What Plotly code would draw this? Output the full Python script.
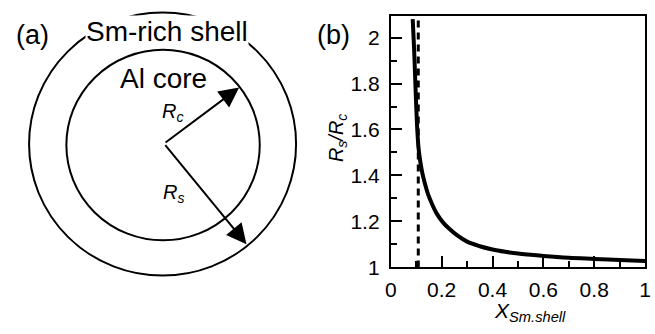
import plotly.graph_objects as go

W, H = 655, 334

# ---- panel (b) data ----
x_sm_shell = [0.086, 0.090, 0.093, 0.0965, 0.100, 0.104, 0.109, 0.116, 0.124, 0.134, 0.146,
              0.160, 0.180, 0.205, 0.23, 0.26, 0.30, 0.35, 0.40, 0.45, 0.50, 0.60, 0.70,
              0.80, 0.90, 1.00]
rs_over_rc = [2.08, 1.99, 1.91, 1.80, 1.70, 1.60, 1.52, 1.46, 1.41, 1.365, 1.32,
              1.281, 1.235, 1.196, 1.168, 1.14, 1.112, 1.092, 1.078, 1.068, 1.06, 1.05, 1.042,
              1.037, 1.032, 1.028]
x_dashed = [0.108, 0.108]
y_dashed = [1.0, 2.094]
x_ticks = [0, 0.2, 0.4, 0.6, 0.8, 1]
x_ticklabels = ["0", "0.2", "0.4", "0.6", "0.8", "1"]
y_ticks = [1, 1.2, 1.4, 1.6, 1.8, 2]
y_ticklabels = ["1", "1.2", "1.4", "1.6", "1.8", "2"]

# ---- panel (a) schematic geometry (pixel-like units) ----
outer_circle = (159.5, 149.0, 136.0)   # cx, cy, r
inner_circle = (160.0, 150.0, 98.5)
arrow_origin = (161.0, 148.5)
arrow_rc_tip = (237.5, 90.5)
arrow_rs_tip = (245.0, 252.5)

FONT = "Arial, Liberation Sans, sans-serif"

def px(x):
    return x / W

def py(y):
    return 1 - y / H

fig = go.Figure()

fig.add_trace(go.Scatter(x=x_sm_shell, y=rs_over_rc, mode="lines",
                         line=dict(color="black", width=4, shape="spline", smoothing=1.0),
                         xaxis="x", yaxis="y", showlegend=False, hoverinfo="skip"))
fig.add_trace(go.Scatter(x=x_dashed, y=y_dashed, mode="lines",
                         line=dict(color="black", width=3, dash="7px,5px"),
                         xaxis="x", yaxis="y", showlegend=False, hoverinfo="skip"))
# invisible trace to instantiate the schematic axes
fig.add_trace(go.Scatter(x=[0], y=[0], mode="markers", marker=dict(opacity=0),
                         xaxis="x2", yaxis="y2", showlegend=False, hoverinfo="skip"))

axis_common = dict(showline=True, linecolor="black", linewidth=2, mirror=True,
                   ticks="inside", ticklen=11, tickwidth=1.5, tickcolor="black",
                   showgrid=False, zeroline=False, ticklabeloverflow="allow",
                   tickfont=dict(family=FONT, size=21, color="black"))

fig.update_layout(
    width=W, height=H,
    margin=dict(l=0, r=0, t=0, b=0),
    paper_bgcolor="white", plot_bgcolor="white",
    xaxis=dict(domain=[px(392), px(651)], range=[0, 1], anchor="y",
               tickvals=x_ticks, ticktext=x_ticklabels,
               minor=dict(dtick=0.1, tick0=0, ticks="inside", ticklen=6, tickwidth=1.5, tickcolor="black"),
               ticklabelstandoff=2,
               **axis_common),
    yaxis=dict(domain=[py(276.5), py(16.5)], range=[1, 2.094], anchor="x",
               tickvals=y_ticks, ticktext=y_ticklabels,
               minor=dict(dtick=0.1, tick0=1, ticks="inside", ticklen=6, tickwidth=1.5, tickcolor="black"),
               ticklabelstandoff=5,
               **axis_common),
    xaxis2=dict(domain=[0, px(320)], range=[0, 320], visible=False, anchor="y2", fixedrange=True),
    yaxis2=dict(domain=[0, 1], range=[H, 0], visible=False, anchor="x2", fixedrange=True),
)

# circles
for cx, cy, r in (outer_circle, inner_circle):
    fig.add_shape(type="circle", xref="x2", yref="y2",
                  x0=cx - r, x1=cx + r, y0=cy - r, y1=cy + r,
                  line=dict(color="black", width=2), fillcolor="rgba(0,0,0,0)", layer="above")

# arrows
for tip in (arrow_rc_tip, arrow_rs_tip):
    fig.add_annotation(x=tip[0], y=tip[1], ax=arrow_origin[0], ay=arrow_origin[1],
                       xref="x2", yref="y2", axref="x2", ayref="y2",
                       text="", showarrow=True, arrowhead=2, arrowsize=2.0,
                       arrowwidth=2, arrowcolor="black")

def label(text, x, y, size, **kw):
    fig.add_annotation(x=px(x), y=py(y), xref="paper", yref="paper", text=text,
                       showarrow=False, xanchor="center", yanchor="middle",
                       font=dict(family=FONT, size=size, color="black"), **kw)

label("(a)", 27.5, 36, 27)
label("(b)", 334, 36, 27)
label("Sm-rich shell", 163.5, 33, 28, bgcolor="white", borderpad=0)
label("Al core", 160, 81, 28)
label("<i>R</i><sub><i>c</i></sub>", 170, 116, 20)
label("<i>R</i><sub><i>s</i></sub>", 171, 200, 20)
label("<i>R</i><sub><i>s</i></sub><i>/R</i><sub><i>c</i></sub>", 337, 143, 20, textangle=-90)
label("<i>X</i><sub><i>Sm.shell</i></sub>", 534, 323, 21)

fig.write_html("out.html")
